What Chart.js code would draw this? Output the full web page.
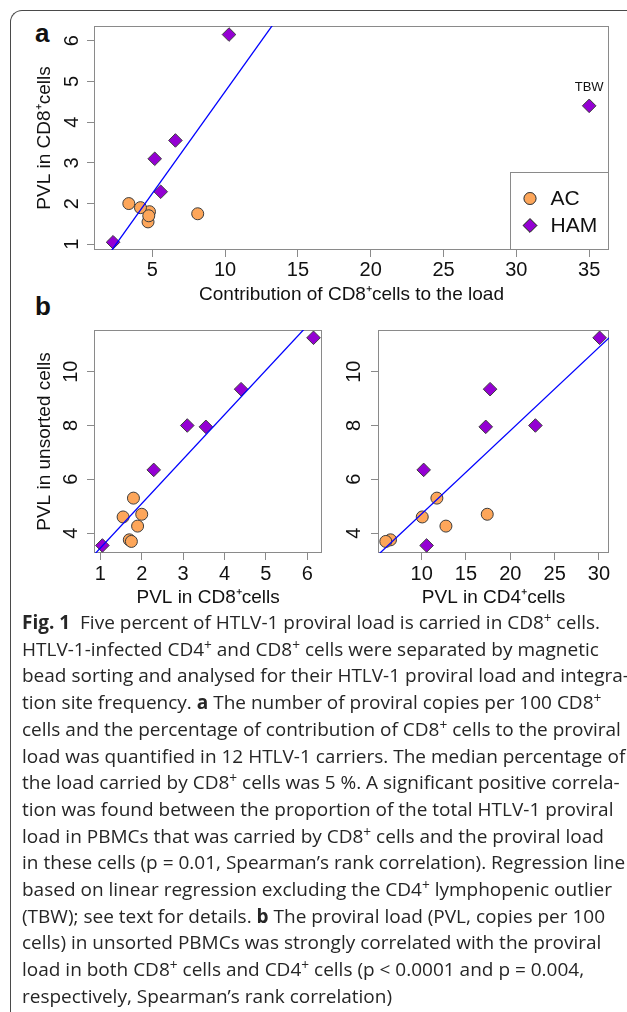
<!DOCTYPE html>
<html>
<head>
<meta charset="utf-8">
<script src="https://cdn.jsdelivr.net/npm/chart.js@4.4.0/dist/chart.umd.min.js"></script>
<style>
  html, body { margin: 0; padding: 0; background: #fff; }
  body { width: 627px; height: 1012px; position: relative; overflow: hidden; }
  .frame { position: absolute; left: 10px; top: 10px; width: 640px; height: 1030px;
           border-left: 1.5px solid #4a4a4a; border-top: 1.5px solid #4a4a4a; border-top-left-radius: 12px; }
  canvas { position: absolute; }
  .panel { position: absolute; font: bold 26px "Liberation Sans", Arial, sans-serif; line-height: 26px; color: #111; }
  #caption { position: absolute; left: 22px; top: 609px; font-family: "Open Sans", sans-serif; font-size: 19px;
             line-height: 26.7px; color: #262626; white-space: nowrap; transform-origin: 0 0; }
  #caption sup { font-size: 0.72em; line-height: 0; vertical-align: 0.42em; }
</style>
</head>
<body>
<div class="frame"></div>
<div class="panel" style="left:35px; top:20px;">a</div>
<div class="panel" style="left:35px; top:293px;">b</div>

<canvas id="chartA" width="627" height="312" style="left:0; top:0;"></canvas>
<canvas id="chartB1" width="330" height="295" style="left:0; top:315px;"></canvas>
<canvas id="chartB2" width="297" height="295" style="left:330px; top:315px;"></canvas>

<div id="caption">
  <div><b>Fig. 1</b>&nbsp;&nbsp;Five percent of HTLV-1 proviral load is carried in CD8<sup>+</sup> cells.</div>
  <div>HTLV-1-infected CD4<sup>+</sup> and CD8<sup>+</sup> cells were separated by magnetic</div>
  <div>bead sorting and analysed for their HTLV-1 proviral load and integra-</div>
  <div>tion site frequency. <b>a</b> The number of proviral copies per 100 CD8<sup>+</sup></div>
  <div><span id="refLine5">cells and the percentage of contribution of CD8<sup>+</sup> cells to the proviral</span></div>
  <div>load was quantified in 12 HTLV-1 carriers. The median percentage of</div>
  <div>the load carried by CD8<sup>+</sup> cells was 5 %. A significant positive correla-</div>
  <div>tion was found between the proportion of the total HTLV-1 proviral</div>
  <div>load in PBMCs that was carried by CD8<sup>+</sup> cells and the proviral load</div>
  <div>in these cells (p = 0.01, Spearman’s rank correlation). Regression line</div>
  <div>based on linear regression excluding the CD4<sup>+</sup> lymphopenic outlier</div>
  <div>(TBW); see text for details. <b>b</b> The proviral load (PVL, copies per 100</div>
  <div>cells) in unsorted PBMCs was strongly correlated with the proviral</div>
  <div>load in both CD8<sup>+</sup> cells and CD4<sup>+</sup> cells (p &lt; 0.0001 and p = 0.004,</div>
  <div>respectively, Spearman’s rank correlation)</div>
</div>

<script>
// --- données (un patient par position) ---
const acContribution = [4.81, 4.71, 3.39, 4.19, 4.76, 8.12];
const acPvlCd8       = [1.80, 1.55, 2.00, 1.90, 1.70, 1.75];
const acPvlUnsorted  = [5.30, 4.60, 4.70, 4.26, 3.75, 3.69];
const acPvlCd4       = [11.72, 10.07, 17.40, 12.74, 6.49, 5.96];

const hamContribution = [2.31, 5.58, 5.17, 6.59, 35.0, 10.27];
const hamPvlCd8       = [1.05, 2.29, 3.10, 3.55, 4.40, 6.15];
const hamPvlUnsorted  = [3.54, 6.35, 8.00, 7.95, 9.35, 11.26];
const hamPvlCd4       = [10.56, 10.23, 22.83, 17.23, 17.72, 30.07];
const hamNames        = ["", "", "", "", "TBW", ""];

// droites de régression [ordonnée à l'origine, pente]
const fitA  = [-0.256, 0.5005];
const fitB1 = [1.790, 1.653];
const fitB2 = [1.617, 0.3097];

// bornes des axes et graduations
const rangeAx = [1.0, 36.36],  rangeAy = [0.86, 6.36];
const rangeB1x = [0.847, 6.36], rangeBy = [3.26, 11.55];
const rangeB2x = [5.08, 31.13];
const ticksAx = [5, 10, 15, 20, 25, 30, 35];
const ticksAy = [1, 2, 3, 4, 5, 6];
const ticksB1x = [1, 2, 3, 4, 5, 6];
const ticksB2x = [10, 15, 20, 25, 30];
const ticksBy = [4, 6, 8, 10];

const FONT = '"Liberation Sans", Arial, sans-serif';
const GRAY = '#8a8a8a';
const AC_COLOR = '#fda65a';
const HAM_COLOR = '#9400d3';
const EDGE = '#3c3c3c';

function pts(xs, ys) { return xs.map((x, i) => ({ x: x, y: ys[i] })); }
function fitLine(fit, range) { return range.map(x => ({ x: x, y: fit[0] + fit[1] * x })); }

// cadre gris autour de la zone de tracé (comme box() dans R)
const boxPlugin = {
  id: 'box',
  beforeDatasetsDraw(chart) {
    const a = chart.chartArea, ctx = chart.ctx;
    ctx.save();
    ctx.strokeStyle = GRAY;
    ctx.lineWidth = 1;
    const l = Math.round(a.left) + 0.5, t = Math.round(a.top) + 0.5;
    const r = Math.round(a.right) - 0.5, b = Math.round(a.bottom) - 0.5;
    ctx.strokeRect(l, t, r - l, b - t);
    ctx.restore();
  }
};

// étiquette au-dessus d'un point (TBW)
const namePlugin = {
  id: 'names',
  afterDatasetsDraw(chart, args, opts) {
    if (!opts.names) return;
    const meta = chart.getDatasetMeta(opts.dataset);
    const ctx = chart.ctx;
    ctx.save();
    ctx.font = '13px ' + FONT;
    ctx.fillStyle = '#111';
    ctx.textAlign = 'center';
    ctx.textBaseline = 'middle';
    meta.data.forEach((el, i) => {
      if (opts.names[i]) ctx.fillText(opts.names[i], el.x, el.y - 18);
    });
    ctx.restore();
  }
};

// légende dans le coin bas-droit
const legendBoxPlugin = {
  id: 'legendBox',
  afterDatasetsDraw(chart, args, opts) {
    if (!opts.show) return;
    const a = chart.chartArea, ctx = chart.ctx;
    const w = 99, h = 78;
    const left = Math.round(a.right - w) + 0.5, top = Math.round(a.bottom - h) + 0.5;
    ctx.save();
    ctx.fillStyle = '#fff';
    ctx.fillRect(left, top, Math.round(a.right) - 0.5 - left, Math.round(a.bottom) - 0.5 - top);
    ctx.strokeStyle = GRAY;
    ctx.lineWidth = 1;
    ctx.strokeRect(left, top, Math.round(a.right) - 0.5 - left, Math.round(a.bottom) - 0.5 - top);
    ctx.font = '21px ' + FONT;
    ctx.textBaseline = 'middle';
    chart.data.datasets.slice(1).forEach((ds, i) => {
      const y = top + 26 + i * 27;
      Chart.helpers.drawPoint(ctx, {
        pointStyle: ds.pointStyle, radius: ds.pointRadius, borderWidth: 1, rotation: 0
      }, left + 19.5, y);
      ctx.fillStyle = ds.backgroundColor;
      ctx.strokeStyle = EDGE;
      ctx.fill();
      ctx.stroke();
      ctx.fillStyle = '#111';
      ctx.fillText(ds.label, left + 40, y + 1);
    });
    ctx.restore();
  }
};

function faireChart(id, cfg) {
  const ax = (ticks, range) => ({
    type: 'linear',
    min: range[0],
    max: range[1],
    afterBuildTicks: s => { s.ticks = ticks.map(v => ({ value: v })); },
    grid: { drawOnChartArea: false, drawTicks: true, tickLength: 7, color: GRAY, lineWidth: 1 },
    border: { display: false }
  });
  const x = ax(cfg.xTicks, cfg.xRange);
  x.position = 'bottom';
  x.afterFit = s => { s.height = cfg.xAxisH; s.paddingLeft = s.paddingRight = s.paddingTop = s.paddingBottom = 0; };
  x.ticks = { font: { family: FONT, size: 20 }, color: '#111', padding: cfg.xTickPad, maxRotation: 0, autoSkip: false };
  x.title = { display: true, text: cfg.xTitle, font: { family: FONT, size: 19 }, color: '#111', padding: 0 };

  const y = ax(cfg.yTicks, cfg.yRange);
  y.position = 'left';
  y.afterFit = s => { s.width = cfg.yAxisW; s.paddingLeft = s.paddingRight = s.paddingTop = s.paddingBottom = 0; };
  y.ticks = { font: { family: FONT, size: 20 }, color: '#111', padding: cfg.yTickPad,
              minRotation: 90, maxRotation: 90, crossAlign: 'center', autoSkip: false };
  y.title = { display: !!cfg.yTitle, text: cfg.yTitle || '', font: { family: FONT, size: 19 }, color: '#111', padding: 0 };

  return new Chart(document.getElementById(id), {
    type: 'scatter',
    data: {
      datasets: [
        { type: 'line', label: 'fit', data: fitLine(cfg.fit, cfg.xRange),
          borderColor: '#0000ff', borderWidth: 1.3, pointRadius: 0, fill: false },
        { label: 'AC', data: pts(cfg.acX, cfg.acY), pointStyle: 'circle', pointRadius: 6,
          backgroundColor: AC_COLOR, borderColor: EDGE, borderWidth: 1, clip: false },
        { label: 'HAM', data: pts(cfg.hamX, cfg.hamY), pointStyle: 'rectRot', pointRadius: 6.8,
          backgroundColor: HAM_COLOR, borderColor: EDGE, borderWidth: 1, clip: false }
      ]
    },
    options: {
      responsive: false,
      animation: false,
      events: [],
      layout: { padding: cfg.pad },
      plugins: {
        legend: { display: false },
        tooltip: { enabled: false },
        names: { names: cfg.names, dataset: 2 },
        legendBox: { show: !!cfg.legend }
      },
      scales: { x: x, y: y }
    },
    plugins: [boxPlugin, namePlugin, legendBoxPlugin]
  });
}

faireChart('chartA', {
  acX: acContribution, acY: acPvlCd8, hamX: hamContribution, hamY: hamPvlCd8,
  fit: fitA, xRange: rangeAx, yRange: rangeAy, xTicks: ticksAx, yTicks: ticksAy,
  xTitle: 'Contribution of CD8⁺cells to the load', yTitle: 'PVL in CD8⁺cells',
  pad: { left: 33.6, top: 26, right: 18, bottom: 5.6 }, yAxisW: 60.4, xAxisH: 56.4,
  xTickPad: 1, yTickPad: 9, names: hamNames, legend: true
});

faireChart('chartB1', {
  acX: acPvlCd8, acY: acPvlUnsorted, hamX: hamPvlCd8, hamY: hamPvlUnsorted,
  fit: fitB1, xRange: rangeB1x, yRange: rangeBy, xTicks: ticksB1x, yTicks: ticksBy,
  xTitle: 'PVL in CD8⁺cells', yTitle: 'PVL in unsorted cells',
  pad: { left: 33.6, top: 15, right: 5, bottom: 0.6 }, yAxisW: 60.4, xAxisH: 56.4,
  xTickPad: 2, yTickPad: 4
});

faireChart('chartB2', {
  acX: acPvlCd4, acY: acPvlUnsorted, hamX: hamPvlCd4, hamY: hamPvlUnsorted,
  fit: fitB2, xRange: rangeB2x, yRange: rangeBy, xTicks: ticksB2x, yTicks: ticksBy,
  xTitle: 'PVL in CD4⁺cells', yTitle: '',
  pad: { left: 0, top: 15, right: 18, bottom: 0.6 }, yAxisW: 48, xAxisH: 56.4,
  xTickPad: 2, yTickPad: 5
});

// ajuste la largeur de la légende pour coller aux retours à la ligne d'origine
function ajusterLegende() {
  const w = document.getElementById('refLine5').getBoundingClientRect().width;
  document.getElementById('caption').style.transform = 'scaleX(' + (583 / w) + ')';
}
ajusterLegende();
if (document.fonts) document.fonts.ready.then(ajusterLegende);
</script>
</body>
</html>
